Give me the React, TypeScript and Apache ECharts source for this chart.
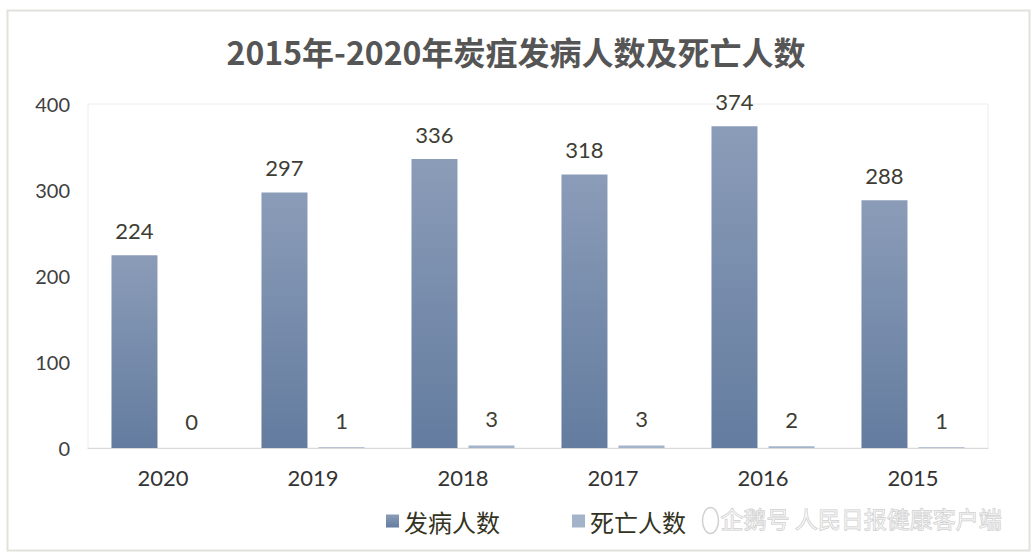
import React, { useEffect, useRef } from "react";
import * as echarts from "echarts";

const categories = ["2020", "2019", "2018", "2017", "2016", "2015"];
const incidence = [224, 297, 336, 318, 374, 288];
const deaths = [0, 1, 3, 3, 2, 1];
const yTicks = { min: 0, max: 400, interval: 100 };
const titleText = "2015年-2020年炭疽发病人数及死亡人数";
const seriesNames = ["发病人数", "死亡人数"];
const watermark = "企鹅号 人民日报健康客户端";

const FONT = "'Noto Sans CJK SC', 'Noto Sans', sans-serif";
const NUMFONT = "Lato, 'Noto Sans CJK SC', sans-serif";

export default function App() {
  const ref = useRef<HTMLDivElement>(null);
  useEffect(() => {
    if (!ref.current) return;
    const chart = echarts.init(ref.current, undefined, { renderer: "svg" });
    const labelStyle = {
      show: true,
      position: "top" as const,
      distance: 14,
      fontSize: 22,
      color: "#3d3d33",
      fontFamily: NUMFONT,
    };
    chart.setOption({
      animation: false,
      backgroundColor: "#ffffff",
      textStyle: { fontFamily: FONT },
      title: {
        text: titleText,
        left: "center",
        top: 30,
        textStyle: { fontSize: 32, fontWeight: "bold", color: "#555555", fontFamily: FONT },
      },
      grid: { left: 88, right: 44, top: 104, bottom: 110, show: true, borderColor: "#ececec", borderWidth: 1 },
      legend: {
        data: seriesNames,
        bottom: 20,
        left: 381,
        itemWidth: 13,
        itemHeight: 13,
        itemGap: 72,
        icon: "rect",
        textStyle: { fontSize: 24, color: "#333322", fontFamily: FONT },
      },
      xAxis: {
        type: "category",
        data: categories,
        axisLine: { lineStyle: { color: "#d9d9d9" } },
        axisTick: { show: false },
        axisLabel: { fontSize: 22, color: "#333333", margin: 18, fontFamily: NUMFONT },
      },
      yAxis: {
        type: "value",
        min: yTicks.min,
        max: yTicks.max,
        interval: yTicks.interval,
        splitLine: { show: false },
        axisLine: { show: false },
        axisTick: { show: false },
        axisLabel: { fontSize: 20, color: "#404040", margin: 18, fontFamily: NUMFONT },
      },
      series: [
        {
          name: seriesNames[0],
          type: "bar",
          data: incidence,
          barWidth: 46,
          barGap: "24%",
          itemStyle: {
            color: new echarts.graphic.LinearGradient(0, 0, 0, 1, [
              { offset: 0, color: "#8b9cb8" },
              { offset: 1, color: "#637c9f" },
            ]),
          },
          label: labelStyle,
        },
        {
          name: seriesNames[1],
          type: "bar",
          data: deaths,
          barWidth: 46,
          itemStyle: { color: "#a3b3c9" },
          label: { ...labelStyle, distance: 16 },
        },
      ],
      graphic: [
        {
          type: "rect",
          left: 5,
          top: 8,
          shape: { width: 1022, height: 540 },
          style: { fill: "none", stroke: "#e2e2da", lineWidth: 2 },
          silent: true,
        },
        {
          type: "text",
          left: 720,
          top: 506,
          z: 100,
          style: {
            text: watermark,
            fontSize: 23,
            fill: "rgba(255,255,255,0.4)",
            stroke: "rgba(170,170,170,0.6)",
            lineWidth: 1,
            fontFamily: FONT,
          },
          silent: true,
        },
        {
          type: "ellipse",
          left: 700,
          top: 505,
          z: 100,
          shape: { cx: 0, cy: 0, rx: 8, ry: 13 },
          style: { fill: "none", stroke: "rgba(170,170,170,0.55)", lineWidth: 1.5 },
          silent: true,
        },
      ],
    });
    return () => chart.dispose();
  }, []);
  return (
    <div
      ref={ref}
      style={{ position: "fixed", left: 0, top: 0, width: 1032, height: 558 }}
    />
  );
}
